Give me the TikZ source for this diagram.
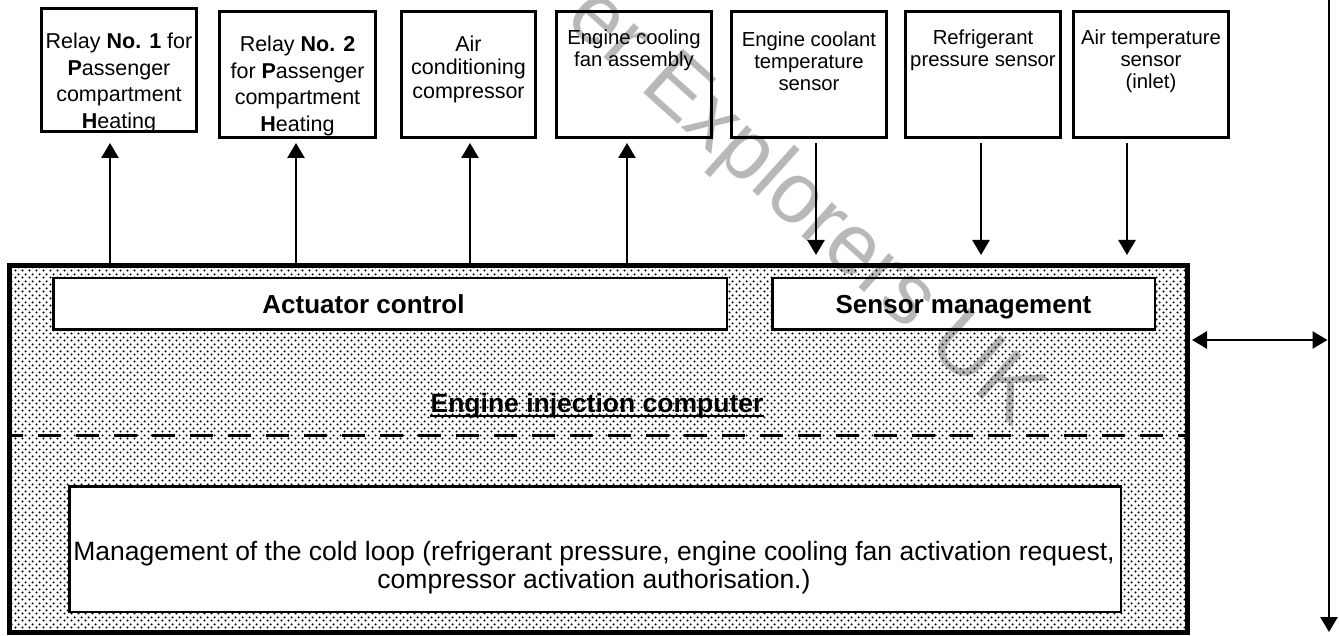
\documentclass[tikz,border=0pt]{standalone}
\usepackage{fontspec}
\setmainfont{Liberation Sans}
\usetikzlibrary{arrows.meta,patterns,calc}
\pgfdeclarepatternformonly{halftone}{\pgfpoint{0pt}{0pt}}{\pgfpoint{7pt}{7pt}}{\pgfpoint{7pt}{7pt}}{%
  \pgfpathcircle{\pgfpoint{1.75pt}{1.75pt}}{1.3pt}%
  \pgfpathcircle{\pgfpoint{5.25pt}{5.25pt}}{1.3pt}%
  \pgfusepath{fill}%
}
\tikzset{
  topbox/.style={draw, line width=2.8pt, minimum height=126.2pt, inner sep=0pt},
  toptext/.style={align=center, font=\fontsize{20.3}{22}\selectfont, inner sep=0pt},
  reltext/.style={align=center, font=\fontsize{21.5}{26.5}\selectfont, inner sep=0pt},
  inbox/.style={draw, line width=2.5pt, fill=white, inner sep=0pt},
  boldlbl/.style={font=\bfseries\fontsize{26}{30}\selectfont, inner sep=0pt},
  bighead/.tip={Triangle[length=15pt,width=17pt]},
  arr/.style={line width=2.6pt, -bighead},
  darr/.style={line width=2.6pt, bighead-bighead},
}
\begin{document}
\begin{tikzpicture}[x=1pt,y=-1pt]
\useasboundingbox (0,0) rectangle (1339,636);
% top boxes
\node[topbox, minimum width=155.2pt, minimum height=123.2pt] (relay1) at (119,70) {};
\node[topbox, minimum width=156.2pt] (relay2) at (297.5,74.5) {};
\node[topbox, minimum width=134.2pt] (aircon) at (468.5,74.5) {};
\node[topbox, minimum width=155.2pt] (fan) at (634,74.5) {};
\node[topbox, minimum width=155.2pt] (coolant) at (809,74.5) {};
\node[topbox, minimum width=155.2pt] (refrig) at (983,74.5) {};
\node[topbox, minimum width=155.2pt] (airtemp) at (1151,74.5) {};
\node[reltext] (t1) at (119,83) {Relay \textbf{No. 1} for\\\textbf{P}assenger\\compartment\\\textbf{H}eating};
\node[reltext] (t2) at (297.5,86) {Relay \textbf{No. 2}\\for \textbf{P}assenger\\compartment\\\textbf{H}eating};
\node[toptext, font=\fontsize{21.5}{23.5}\selectfont] (t3) at (468.5,69) {Air\\conditioning\\compressor};
\node[toptext] (t4) at (634,50) {Engine cooling\\fan assembly};
\node[toptext] (t5) at (809,61) {Engine coolant\\temperature\\sensor};
\node[toptext] (t6) at (983,50) {Refrigerant\\pressure sensor};
\node[toptext] (t7) at (1151,61) {Air temperature\\sensor\\(inlet)};
% main computer box
\node[draw, line width=5pt, pattern=halftone, pattern color=black, minimum width=1178pt, minimum height=367pt, inner sep=0pt] (main) at (598.5,449) {};
\node[inbox, minimum width=673.5pt, minimum height=51.5pt] (actuator) at (390,304) {};
\node[inbox, minimum width=382.5pt, minimum height=51.5pt] (sensor) at (963.5,304) {};
\node[boldlbl, anchor=base] (actlbl) at (363.5,314) {Actuator control};
\node[boldlbl, anchor=base] (senslbl) at (963.5,314) {Sensor management};
\node[boldlbl, font=\bfseries\fontsize{26.5}{30}\selectfont, anchor=base] (title) at (597,412) {Engine injection computer};
\draw[line width=2.5pt] ($(title.base west)+(0,4)$) -- ($(title.base east)+(0,4)$);
\coordinate (dl) at (0,435);
\draw[line width=3pt, dash pattern=on 23pt off 15pt, dash phase=7pt] (main.west |- dl) -- (main.east |- dl);
\node[inbox, minimum width=1051.5pt, minimum height=125.5pt] (mgmt) at (595,549) {};
\node[align=center, font=\fontsize{26.5}{28}\selectfont, inner sep=0pt] (mgmttxt) at (594,568) {Management of the cold loop (refrigerant pressure, engine cooling fan activation request,\\compressor activation authorisation.)};
% arrows
\coordinate (x1) at (110,0);
\coordinate (x2) at (296,0);
\coordinate (x3) at (470,0);
\coordinate (x4) at (627,0);
\coordinate (x5) at (816,0);
\coordinate (x6) at (981,0);
\coordinate (x7) at (1127,0);
\draw[arr, shorten >=10pt] (main.north -| x1) -- (relay1.south -| x1);
\draw[arr, shorten >=4pt] (main.north -| x2) -- (relay2.south -| x2);
\draw[arr, shorten >=4pt] (main.north -| x3) -- (aircon.south -| x3);
\draw[arr, shorten >=4pt] (main.north -| x4) -- (fan.south -| x4);
\draw[arr, shorten <=4pt, shorten >=8pt] (coolant.south -| x5) -- (main.north -| x5);
\draw[arr, shorten <=4pt, shorten >=8pt] (refrig.south -| x6) -- (main.north -| x6);
\draw[arr, shorten <=4pt, shorten >=8pt] (airtemp.south -| x7) -- (main.north -| x7);
\coordinate (rt) at (1329,0);
\coordinate (rb) at (1329,632);
\draw[arr] (rt) -- (rb);
\coordinate (da) at (0,340);
\draw[darr, shorten <=2pt, shorten >=1.5pt] (main.east |- da) -- (rt |- da);
% watermark
\node[opacity=0.28, rotate=-42, font=\fontsize{86}{86}\selectfont, inner sep=0pt] (wm) at (804,208) {er Explorers UK};
\end{tikzpicture}
\end{document}
